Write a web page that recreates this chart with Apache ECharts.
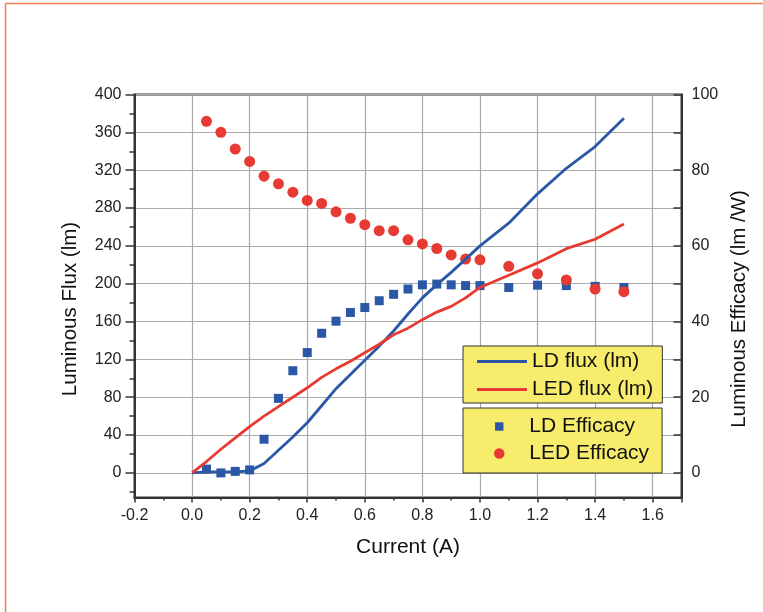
<!DOCTYPE html>
<html>
<head>
<meta charset="utf-8">
<script src="https://cdn.jsdelivr.net/npm/echarts@6/dist/echarts.min.js"></script>
<style>
  html, body { margin: 0; padding: 0; background: #fff; }
  #chart { width: 763px; height: 612px; }
</style>
</head>
<body>
<div id="chart"></div>
<script>
// flux curves (lm) vs current (A)
const currentLine = [0, 0.05, 0.1, 0.15, 0.2, 0.25, 0.3, 0.35, 0.4, 0.45, 0.5, 0.55, 0.6, 0.65, 0.7, 0.75, 0.8, 0.85, 0.9, 0.95, 1.0, 1.1, 1.2, 1.3, 1.4, 1.5];
const ldFlux = [0, 1, 1, 1, 2, 10, 24, 38, 53, 71, 89, 104, 119, 134, 150, 168, 185, 199, 212, 226, 240, 264, 295, 322, 345, 375];
const ledFlux = [0, 12, 25, 37, 49, 60, 70, 80, 90, 101, 110, 118, 127, 136, 146, 153, 162, 170, 176, 185, 196, 209, 222, 237, 247, 263];

// efficacy points (lm/W)
const currentEff = [0.05, 0.1, 0.15, 0.2, 0.25, 0.3, 0.35, 0.4, 0.45, 0.5, 0.55, 0.6, 0.65, 0.7, 0.75, 0.8, 0.85, 0.9, 0.95, 1.0, 1.1, 1.2, 1.3, 1.4, 1.5];
const ldEff = [1.0, 0, 0.4, 0.8, 8.9, 19.7, 27, 31.8, 36.9, 40.1, 42.4, 43.7, 45.5, 47.2, 48.6, 49.7, 49.9, 49.7, 49.5, 49.5, 49, 49.6, 49.5, 49.3, 49];
const ledEff = [92.9, 90, 85.6, 82.3, 78.4, 76.4, 74.2, 72, 71.2, 69, 67.3, 65.6, 64, 64, 61.6, 60.5, 59.3, 57.6, 56.5, 56.3, 54.6, 52.6, 51, 48.6, 47.9];

// tick values
const fluxTicks = [0, 40, 80, 120, 160, 200, 240, 280, 320, 360, 400];
const fluxMinor = [-20, 20, 60, 100, 140, 180, 220, 260, 300, 340, 380];
const effTicks = [0, 10, 20, 30, 40, 50, 60, 70, 80, 90, 100];
const effLabels = [0, 20, 40, 60, 80, 100];

const font = 'Liberation Sans, Arial, sans-serif';
const blue = '#2a58a6';
const red = '#e63a32';
const axisCol = '#333';

function pairs(xs, ys) {
  return xs.map((x, i) => [x, ys[i]]);
}

const chart = echarts.init(document.getElementById('chart'));

const legendText = { fontSize: 21, lineHeight: 20, color: '#111', fontFamily: font };

const option = {
  backgroundColor: '#fff',
  animation: false,
  textStyle: { fontFamily: font },
  graphic: [
    { type: 'line', shape: { x1: 5.5, y1: 3.5, x2: 763, y2: 3.5 }, style: { stroke: '#ee7e50', lineWidth: 1.5 } },
    { type: 'line', shape: { x1: 5.5, y1: 3.5, x2: 5.5, y2: 612 }, style: { stroke: '#ee7e50', lineWidth: 1.5 } }
  ],
  grid: {
    left: 134.5, right: 81.5, top: 94.5, bottom: 114.5,
    show: true, borderColor: axisCol, borderWidth: 2, backgroundColor: 'transparent'
  },
  legend: [
    {
      data: [
        { name: 'LD flux (lm)', icon: 'rect', itemStyle: { color: blue } },
        { name: 'LED flux (lm)', icon: 'rect', itemStyle: { color: red } }
      ],
      orient: 'vertical', left: 463, top: 346,
      padding: [5, 9, 3, 14], itemWidth: 50, itemHeight: 3, itemGap: 7,
      backgroundColor: '#f8ec6c', borderColor: '#333', borderWidth: 1,
      selectedMode: false,
      textStyle: legendText
    },
    {
      data: [
        { name: 'LD Efficacy', icon: 'path://M0,0M10,10M1,1h8v8h-8z' },
        { name: 'LED Efficacy', icon: 'circle' }
      ],
      orient: 'vertical', left: 463, top: 408,
      padding: [8, 13, 9, 31], itemWidth: 50, itemHeight: 10.5, itemGap: 6,
      backgroundColor: '#f8ec6c', borderColor: '#333', borderWidth: 1,
      selectedMode: false,
      textStyle: legendText
    }
  ],
  xAxis: {
    type: 'value', min: -0.2, max: 1.7, interval: 0.2,
    name: 'Current (A)', nameLocation: 'middle', nameGap: 39,
    nameTextStyle: { fontSize: 21, color: '#111', fontFamily: font },
    axisLine: { show: true, onZero: false, lineStyle: { color: axisCol, width: 2 } },
    axisTick: { show: true, inside: false, length: 5, lineStyle: { color: axisCol, width: 1.5 } },
    minorTick: { show: true, splitNumber: 2, length: 3, lineStyle: { color: axisCol, width: 1.5 } },
    axisLabel: {
      fontSize: 16, color: '#222', margin: 10, showMaxLabel: false,
      formatter: v => v.toFixed(1)
    },
    splitLine: { show: true, lineStyle: { color: '#aaa', width: 1.2 } }
  },
  yAxis: [
    {
      type: 'value', min: -26, max: 400, position: 'left',
      name: 'Luminous Flux (lm)', nameLocation: 'middle', nameGap: 54, nameRotate: 90,
      nameTextStyle: { fontSize: 20.5, color: '#111', fontFamily: font, padding: [0, 26, 0, 0] },
      axisLine: { show: true, onZero: false, lineStyle: { color: axisCol, width: 2 } },
      axisTick: { show: true, inside: false, length: 9, customValues: fluxTicks, lineStyle: { color: axisCol, width: 1.5 } },
      axisLabel: { fontSize: 16, color: '#222', margin: 13, customValues: fluxTicks },
      splitLine: { show: true, lineStyle: { color: '#aaa', width: 1.2 } }
    },
    {
      type: 'value', min: -26, max: 400, position: 'left', offset: 0,
      axisLine: { show: false, onZero: false },
      axisTick: { show: true, inside: false, length: 5, customValues: fluxMinor, lineStyle: { color: axisCol, width: 1.5 } },
      axisLabel: { show: false },
      splitLine: { show: false }
    },
    {
      type: 'value', min: -6.5, max: 100, position: 'right',
      name: 'Luminous Efficacy (lm /W)', nameLocation: 'middle', nameGap: 47, nameRotate: 90,
      nameTextStyle: { fontSize: 20.5, color: '#111', fontFamily: font, padding: [0, 26, 0, 0] },
      axisLine: { show: true, onZero: false, lineStyle: { color: axisCol, width: 2 } },
      axisTick: { show: true, inside: true, length: 8, customValues: effTicks, lineStyle: { color: axisCol, width: 1.5 } },
      axisLabel: { fontSize: 16, color: '#222', margin: 10, customValues: effLabels },
      splitLine: { show: false }
    }
  ],
  series: [
    {
      name: 'LD flux (lm)', type: 'line', yAxisIndex: 0,
      data: pairs(currentLine, ldFlux),
      symbol: 'none', lineStyle: { color: blue, width: 2.8 }, itemStyle: { color: blue }
    },
    {
      name: 'LED flux (lm)', type: 'line', yAxisIndex: 0,
      data: pairs(currentLine, ledFlux),
      symbol: 'none', lineStyle: { color: red, width: 2.8 }, itemStyle: { color: red }
    },
    {
      name: 'LD Efficacy', type: 'scatter', yAxisIndex: 2,
      data: pairs(currentEff, ldEff),
      symbol: 'rect', symbolSize: 9, itemStyle: { color: blue, opacity: 1 }
    },
    {
      name: 'LED Efficacy', type: 'scatter', yAxisIndex: 2,
      data: pairs(currentEff, ledEff),
      symbol: 'circle', symbolSize: 11, itemStyle: { color: red, opacity: 1 }
    }
  ]
};

chart.setOption(option);
</script>
</body>
</html>
